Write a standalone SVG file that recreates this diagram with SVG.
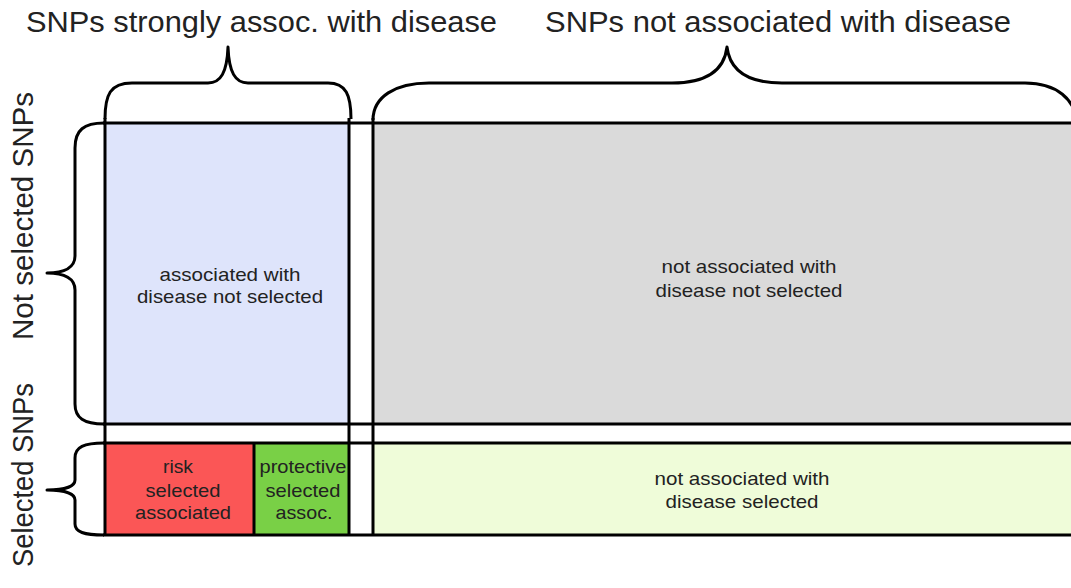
<svg xmlns="http://www.w3.org/2000/svg" width="1071" height="588" viewBox="0 0 1071 588">
<style>
.t{font-family:"Liberation Sans",Arial,sans-serif;fill:#222;}
.big{font-size:29px;}
.sm{font-size:19px;text-anchor:middle;}
.ln{stroke:#000;stroke-width:3;fill:none;}
.br{stroke:#000;stroke-width:3;fill:none;stroke-linejoin:round;}
</style>
<rect width="1071" height="588" fill="#fff"/>
<g id="fills">
<rect id="blue" x="105" y="123" width="244" height="301" fill="#dee4fb"/>
<rect id="gray" x="373" y="123" width="698" height="301" fill="#dadada"/>
<rect id="red" x="105" y="443" width="149" height="92" fill="#fb5656"/>
<rect id="green" x="254" y="443" width="95" height="92" fill="#79d046"/>
<rect id="lightgreen" x="373" y="443" width="698" height="92" fill="#effcd9"/>
</g>
<g id="grid">
<line class="ln" x1="103" y1="123" x2="1071" y2="123"/>
<line class="ln" x1="103" y1="424" x2="1071" y2="424"/>
<line class="ln" x1="103" y1="443" x2="1071" y2="443"/>
<line class="ln" x1="103" y1="535" x2="1071" y2="535"/>
<line class="ln" x1="105" y1="118" x2="105" y2="536"/>
<line class="ln" x1="349" y1="118" x2="349" y2="536"/>
<line class="ln" x1="373" y1="118" x2="373" y2="536"/>
<line class="ln" x1="254" y1="443" x2="254" y2="536"/>
</g>
<g id="braces">
<path class="br" d="M105,119 C105,95 110,83 132,83 L208,83 C221,83 227,72 228,47 C229,72 235,83 248,83 L328,83 C346,83 351,95 351,119"/>
<path class="br" d="M373,120 C373,97 395,83 429,83 L672,83 C705,83 724,72 727,47 C730,72 749,83 782,83 L1025,83 C1058,83 1074,100 1078,122"/>
<path class="br" d="M104,123 C84,123 75,130 75,148 L75,256 C75,267 65,273 47,273 C65,273 75,279 75,290 L75,404 C75,418 84,424 104,424"/>
<path class="br" d="M104,443 C84,443 75,447 75,458 L75,480 C75,486 66,490 47,490 C66,490 75,494 75,500 L75,524 C75,532 84,535 104,535"/>
</g>
<g id="titles">
<text class="t big" x="26" y="32" textLength="471" lengthAdjust="spacingAndGlyphs">SNPs strongly assoc. with disease</text>
<text class="t big" x="545" y="32" textLength="466" lengthAdjust="spacingAndGlyphs">SNPs not associated with disease</text>
<text class="t big" text-anchor="middle" transform="translate(33,216) rotate(-90)" textLength="248" lengthAdjust="spacingAndGlyphs">Not selected SNPs</text>
<text class="t big" text-anchor="middle" transform="translate(33,475) rotate(-90)" textLength="184" lengthAdjust="spacingAndGlyphs">Selected SNPs</text>
</g>
<g id="node-blue">
<text class="t sm" x="230" y="281" textLength="141" lengthAdjust="spacingAndGlyphs">associated with</text>
<text class="t sm" x="230" y="303" textLength="186" lengthAdjust="spacingAndGlyphs">disease not selected</text>
</g>
<g id="node-gray">
<text class="t sm" x="749" y="273" textLength="175" lengthAdjust="spacingAndGlyphs">not associated with</text>
<text class="t sm" x="749" y="297" textLength="187" lengthAdjust="spacingAndGlyphs">disease not selected</text>
</g>
<g id="node-red">
<text class="t sm" x="178" y="473" textLength="30" lengthAdjust="spacingAndGlyphs">risk</text>
<text class="t sm" x="183" y="497" textLength="75" lengthAdjust="spacingAndGlyphs">selected</text>
<text class="t sm" x="183" y="519" textLength="96" lengthAdjust="spacingAndGlyphs">associated</text>
</g>
<g id="node-green">
<text class="t sm" x="303" y="473" textLength="87" lengthAdjust="spacingAndGlyphs">protective</text>
<text class="t sm" x="303" y="497" textLength="75" lengthAdjust="spacingAndGlyphs">selected</text>
<text class="t sm" x="304" y="519" textLength="57" lengthAdjust="spacingAndGlyphs">assoc.</text>
</g>
<g id="node-lightgreen">
<text class="t sm" x="742" y="485" textLength="175" lengthAdjust="spacingAndGlyphs">not associated with</text>
<text class="t sm" x="742" y="508" textLength="153" lengthAdjust="spacingAndGlyphs">disease selected</text>
</g>
</svg>
